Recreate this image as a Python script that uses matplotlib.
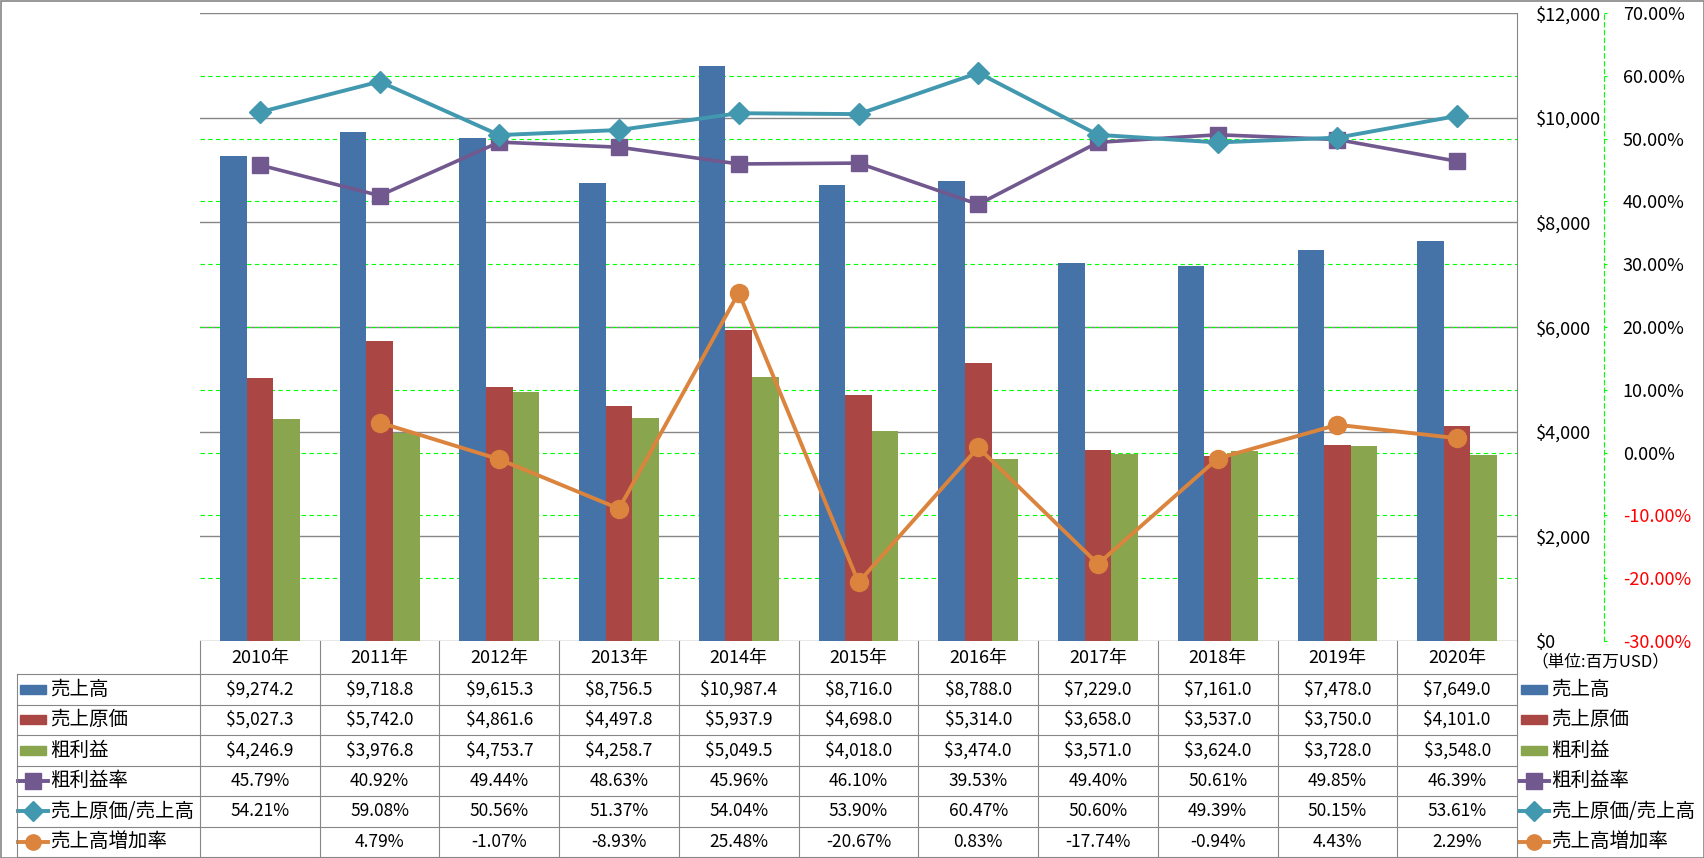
import numpy as np
import matplotlib
matplotlib.use('Agg')
import matplotlib.pyplot as plt
from matplotlib.lines import Line2D
from matplotlib.patches import Rectangle
from matplotlib.transforms import blended_transform_factory

plt.rcParams['font.family'] = ['Noto Sans CJK JP', 'DejaVu Sans']

years = ['2010年', '2011年', '2012年', '2013年', '2014年', '2015年',
         '2016年', '2017年', '2018年', '2019年', '2020年']
sales = [9274.2, 9718.8, 9615.3, 8756.5, 10987.4, 8716.0, 8788.0, 7229.0, 7161.0, 7478.0, 7649.0]
cost = [5027.3, 5742.0, 4861.6, 4497.8, 5937.9, 4698.0, 5314.0, 3658.0, 3537.0, 3750.0, 4101.0]
gross = [4246.9, 3976.8, 4753.7, 4258.7, 5049.5, 4018.0, 3474.0, 3571.0, 3624.0, 3728.0, 3548.0]
gross_rate = [45.79, 40.92, 49.44, 48.63, 45.96, 46.10, 39.53, 49.40, 50.61, 49.85, 46.39]
cost_ratio = [54.21, 59.08, 50.56, 51.37, 54.04, 53.90, 60.47, 50.60, 49.39, 50.15, 53.61]
growth = [np.nan, 4.79, -1.07, -8.93, 25.48, -20.67, 0.83, -17.74, -0.94, 4.43, 2.29]

money_ticks = [0, 2000, 4000, 6000, 8000, 10000, 12000]
pct_ticks = [-30, -20, -10, 0, 10, 20, 30, 40, 50, 60, 70]
unit_label = '（単位:百万USD）'

BLUE, RED, GREEN = '#4572A7', '#AA4643', '#89A54E'
PURPLE, TEAL, ORANGE = '#71588F', '#4198AF', '#DB843D'
GRID = '#868686'
FS = 12.5
AFS = 13
JFS = 14

W, H = 1704, 858
fig = plt.figure(figsize=(W / 100, H / 100), dpi=100)


def fx(x):
    return x / W


def fy(y):
    return 1 - y / H


# plot area
ax = fig.add_axes([fx(200), fy(641), (1517 - 200) / W, (641 - 13) / H])
n = len(years)
x = np.arange(n)
bw = 2 / 9
ax.bar(x - bw, sales, bw, color=BLUE, zorder=2)
ax.bar(x, cost, bw, color=RED, zorder=2)
ax.bar(x + bw, gross, bw, color=GREEN, zorder=2)
ax.set_xlim(-0.5, n - 0.5)
ax.set_ylim(money_ticks[0], money_ticks[-1])
ax.set_xticks([])
ax.set_yticks(money_ticks)
ax.set_yticklabels(['${:,}'.format(v) for v in money_ticks])
ax.set_axisbelow(True)
ax.grid(axis='y', color=GRID, lw=1)
for s in ax.spines.values():
    s.set_visible(False)

# percent grid on the bar axis so it stays under the bars
for p in pct_ticks[1:-1]:
    f = (p - pct_ticks[0]) / (pct_ticks[-1] - pct_ticks[0])
    ax.add_line(Line2D([0, 1], [f, f], transform=ax.transAxes, color='#00FF00',
                       lw=0.8, ls=(0, (4, 3)), zorder=1))

ax2 = ax.twinx()
# twinx moves the first axis ticks to the left, put them back
ax.yaxis.tick_right()
ax.tick_params(axis='y', length=0, pad=13.5, labelsize=AFS)
ax.spines['right'].set_visible(True)
ax.spines['right'].set_color(GRID)

ax2.set_ylim(pct_ticks[0], pct_ticks[-1])
ax2.plot(x, gross_rate, color=PURPLE, lw=2.6, marker='s', ms=12, mec=PURPLE, mfc=PURPLE, clip_on=False)
ax2.plot(x, cost_ratio, color=TEAL, lw=2.8, marker='D', ms=11.5, mec=TEAL, mfc=TEAL, clip_on=False)
ax2.plot(x, growth, color=ORANGE, lw=2.8, marker='o', ms=13, mec=ORANGE, mfc=ORANGE, clip_on=False)
for side in ['top', 'left', 'bottom']:
    ax2.spines[side].set_visible(False)
ax2.spines['right'].set_position(('axes', (1604 - 200) / (1517 - 200)))
ax2.spines['right'].set_color('#00FF00')
ax2.spines['right'].set_linestyle((0, (4, 3)))
ax2.spines['right'].set_linewidth(0.8)
ax2.set_yticks(pct_ticks)
ax2.set_yticklabels(['{:.2f}%'.format(p) for p in pct_ticks])
ax2.tick_params(axis='y', color='#00FF00', length=2.5, width=0.8, pad=11, labelsize=AFS)
for p, lab in zip(pct_ticks, ax2.get_yticklabels()):
    lab.set_color('red' if p < 0 else 'black')

# data table
trans = blended_transform_factory(ax.transData, fig.transFigure)
row_top = [674 + 30.5 * k for k in range(7)]

for i, yr in enumerate(years):
    ax.text(i, fy(657.5), yr, transform=trans, ha='center', va='center', fontsize=13)


def money(v):
    return '${:,.1f}'.format(v)


def pct(v):
    return '' if np.isnan(v) else '{:.2f}%'.format(v)


rows = [
    ('売上高', 'bar', BLUE, None, sales, money),
    ('売上原価', 'bar', RED, None, cost, money),
    ('粗利益', 'bar', GREEN, None, gross, money),
    ('粗利益率', 'line', PURPLE, 's', gross_rate, pct),
    ('売上原価/売上高', 'line', TEAL, 'D', cost_ratio, pct),
    ('売上高増加率', 'line', ORANGE, 'o', growth, pct),
]


def draw_key(x0, yc, kind, color, marker):
    if kind == 'bar':
        fig.add_artist(Rectangle((fx(x0), fy(yc + 4.5)), 26 / W, 9 / H, color=color,
                                 transform=fig.transFigure))
    else:
        fig.add_artist(Line2D([fx(x0 - 2), fx(x0 + 28)], [fy(yc), fy(yc)], color=color, lw=2.8,
                              transform=fig.transFigure))
        fig.add_artist(Line2D([fx(x0 + 13)], [fy(yc)], marker=marker, ms=11 if marker != 'D' else 10,
                              color=color, transform=fig.transFigure))


for k, (label, kind, color, marker, vals, fmt) in enumerate(rows):
    yc = row_top[k] + 15.25
    draw_key(20, yc, kind, color, marker)
    fig.text(fx(50), fy(yc), label, ha='left', va='center', fontsize=JFS)
    draw_key(1521, yc, kind, color, marker)
    fig.text(fx(1551), fy(yc), label, ha='left', va='center', fontsize=JFS)
    for i, v in enumerate(vals):
        ax.text(i, fy(yc), fmt(v), transform=trans, ha='center', va='center', fontsize=FS)

fig.text(fx(1531), fy(662), unit_label, ha='left', va='center', fontsize=12)

for y in row_top:
    fig.add_artist(Line2D([fx(17), fx(1517)], [fy(y), fy(y)], color=GRID, lw=0.8,
                          transform=fig.transFigure))
fig.add_artist(Line2D([fx(17), fx(17)], [fy(674), fy(857)], color=GRID, lw=0.8,
                      transform=fig.transFigure))
for i in range(n + 1):
    fig.add_artist(Line2D([i - 0.5, i - 0.5], [fy(641), fy(857)], color=GRID, lw=0.8,
                          transform=trans))

# chart border
fig.add_artist(Rectangle((0.5 / W, 0.5 / H), (W - 1) / W, (H - 1) / H, fill=False,
                         ec=GRID, lw=1.2, transform=fig.transFigure))

fig.savefig('out.png', dpi=100)
